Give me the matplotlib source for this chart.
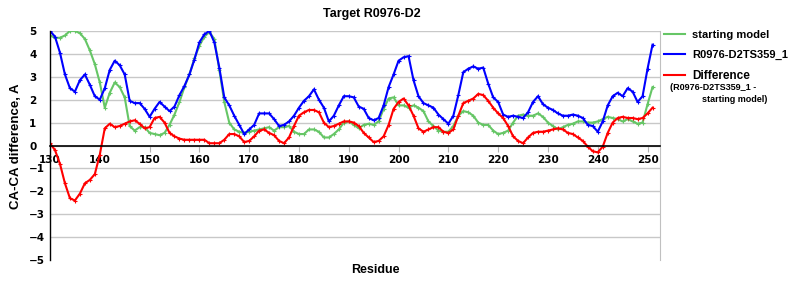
import numpy as np
from matplotlib import pyplot as plt

# residue numbers along x
residues = list(range(130, 252))

# CA-CA difference for the starting model
starting_model = [
    4.8, 4.7, 4.7, 4.8, 5.0, 5.0, 4.9, 4.65, 4.15, 3.55,
    2.75, 1.65, 2.3, 2.75, 2.55, 2.1, 0.85, 0.65, 0.8, 0.8,
    0.55, 0.5, 0.45, 0.55, 0.9, 1.35, 1.9, 2.55, 3.1, 3.8,
    4.35, 4.75, 4.95, 4.65, 3.3, 1.9, 1.0, 0.7, 0.6, 0.55,
    0.6, 0.65, 0.7, 0.75, 0.8, 0.65, 0.8, 0.8, 0.85, 0.6,
    0.5, 0.5, 0.7, 0.7, 0.6, 0.35, 0.35, 0.5, 0.7, 1.0,
    1.05, 0.9, 0.75, 0.9, 0.95, 0.9, 1.05, 1.6, 2.05, 2.1,
    1.75, 1.75, 1.65, 1.75, 1.65, 1.5, 1.05, 0.85, 0.65, 0.6,
    0.6, 0.85, 1.3, 1.5, 1.45, 1.3, 1.0, 0.9, 0.9, 0.65,
    0.5, 0.55, 0.65, 1.0, 1.3, 1.35, 1.3, 1.3, 1.4, 1.25,
    1.0, 0.85, 0.7, 0.8, 0.9, 0.95, 1.05, 1.05, 1.0, 1.0,
    1.05, 1.15, 1.25, 1.2, 1.15, 1.05, 1.15, 1.05, 0.95, 1.0,
    1.8, 2.55,
]

# CA-CA difference for model R0976-D2TS359_1
ts359 = [
    5.0, 4.75, 4.05, 3.1, 2.5, 2.35, 2.85, 3.1, 2.65, 2.15,
    2.0, 2.5, 3.3, 3.7, 3.5, 3.1, 1.95, 1.85, 1.85, 1.6,
    1.25, 1.6, 1.9, 1.7, 1.5, 1.7, 2.2, 2.6, 3.1, 3.75,
    4.5, 4.85, 5.0, 4.5, 3.4, 2.1, 1.75, 1.3, 0.9, 0.5,
    0.7, 0.9, 1.4, 1.4, 1.4, 1.15, 0.85, 0.9, 1.05, 1.3,
    1.65, 1.95, 2.15, 2.45, 2.0, 1.65, 1.05, 1.3, 1.75, 2.15,
    2.15, 2.1, 1.7, 1.6, 1.2, 1.1, 1.2, 1.75, 2.55, 3.1,
    3.7, 3.85, 3.9, 2.85, 2.15, 1.85, 1.75, 1.65, 1.35, 1.15,
    0.95, 1.3, 2.2, 3.2, 3.35, 3.45, 3.35, 3.4, 2.7, 2.1,
    1.9, 1.35, 1.25, 1.3, 1.25, 1.2, 1.45, 1.9, 2.15, 1.8,
    1.65, 1.55, 1.4, 1.3, 1.3, 1.35, 1.3, 1.2, 0.9, 0.85,
    0.6, 1.05, 1.75, 2.15, 2.3, 2.15, 2.5, 2.35, 1.9, 2.15,
    3.35, 4.4,
]

# R0976-D2TS359_1 minus starting model
difference = [
    0.1, -0.2, -0.8, -1.65, -2.3, -2.4, -2.1, -1.65, -1.5, -1.25,
    -0.4, 0.75, 0.95, 0.8, 0.85, 0.95, 1.05, 1.1, 0.95, 0.75,
    0.8, 1.2, 1.25, 1.0, 0.55, 0.4, 0.3, 0.25, 0.25, 0.25,
    0.25, 0.25, 0.1, 0.1, 0.1, 0.25, 0.5, 0.5, 0.4, 0.15,
    0.2, 0.4, 0.65, 0.7, 0.55, 0.45, 0.2, 0.1, 0.35, 0.85,
    1.3, 1.45, 1.55, 1.55, 1.45, 1.0, 0.8, 0.85, 0.95, 1.05,
    1.05, 1.0, 0.85, 0.55, 0.35, 0.15, 0.2, 0.4, 0.9, 1.6,
    1.9, 2.05, 1.75, 1.3, 0.75, 0.6, 0.7, 0.8, 0.8, 0.6,
    0.55, 0.7, 1.3, 1.85, 1.95, 2.05, 2.25, 2.2, 1.95, 1.65,
    1.4, 1.2, 0.85, 0.4, 0.2, 0.1, 0.35, 0.55, 0.6, 0.6,
    0.65, 0.7, 0.75, 0.7, 0.55, 0.5, 0.35, 0.2, -0.05, -0.25,
    -0.3, -0.05, 0.55, 1.0, 1.2, 1.25, 1.2, 1.2, 1.15, 1.2,
    1.4, 1.65,
]

x_ticks = list(range(130, 251, 10))
y_ticks = list(range(-5, 6))

green = '#66c666'
blue = '#0000ff'
red = '#ff0000'

fig = plt.figure(figsize=(8, 3), dpi=100)
ax = fig.add_axes([0.0625, 0.133, 0.7625, 0.764])

ax.plot(residues, starting_model, color=green, lw=1.5, marker='+', ms=3, mew=0.8, label='starting model')
ax.plot(residues, ts359, color=blue, lw=1.5, marker='+', ms=3, mew=0.8, label='R0976-D2TS359_1')
ax.plot(residues, difference, color=red, lw=1.5, marker='+', ms=3, mew=0.8, label='Difference')

ax.set_xlim(130, 252.5)
ax.set_ylim(-5, 5)

# spines: x axis at zero, grey right border
ax.spines['bottom'].set_position(('data', 0))
ax.spines['bottom'].set_color('black')
ax.spines['bottom'].set_linewidth(1.2)
ax.spines['left'].set_color('black')
ax.spines['left'].set_linewidth(1.0)
ax.spines['top'].set_visible(False)
ax.spines['right'].set_color('#c0c0c0')

ax.set_xticks(x_ticks)
ax.set_xticklabels([str(t) for t in x_ticks], fontweight='bold', fontsize=7.5, family='DejaVu Sans')
ax.tick_params(axis='x', direction='out', length=4, color='#b0b0b0', pad=3)

ax.set_yticks(y_ticks)
ax.set_yticklabels([str(t).replace('-', '\u2212') for t in y_ticks], fontweight='bold', fontsize=7.5,
                   family='DejaVu Sans')
ax.tick_params(axis='y', length=0, pad=15)
for lbl in ax.get_yticklabels():
    lbl.set_horizontalalignment('left')

ax.yaxis.grid(True, color='#c8c8c8', lw=1.0)
ax.get_ygridlines()[0].set_visible(False)
ax.set_axisbelow(True)

fig.text(372 / 800, 1 - 14 / 300, 'Target R0976-D2', ha='center', va='center',
         fontsize=9, fontweight='bold', family='Liberation Sans')
fig.text(375 / 800, 1 - 270 / 300, 'Residue', ha='center', va='center',
         fontsize=9, fontweight='bold', family='Liberation Sans')
fig.text(16 / 800, 1 - 146 / 300, 'CA-CA difference, A', ha='center', va='center', rotation=90,
         fontsize=9.5, fontweight='bold', family='Liberation Sans')

leg = ax.legend(loc='upper left', bbox_to_anchor=(664 / 800, 1 - 30 / 300), bbox_transform=fig.transFigure,
                frameon=False, handlelength=1.9, handletextpad=0.6, labelspacing=0.9, borderaxespad=0,
                borderpad=0, prop={'family': 'Liberation Sans', 'weight': 'bold', 'size': 8})
for line in leg.get_lines():
    line.set_marker('')
leg.get_texts()[2].set_fontsize(8.5)

fig.text(670 / 800, 1 - 87 / 300, '(R0976-D2TS359_1 -', ha='left', va='center',
         fontsize=6.5, fontweight='bold', family='Liberation Sans')
fig.text(702 / 800, 1 - 99 / 300, 'starting model)', ha='left', va='center',
         fontsize=6.5, fontweight='bold', family='Liberation Sans')

fig.savefig('out.png', dpi=100)
